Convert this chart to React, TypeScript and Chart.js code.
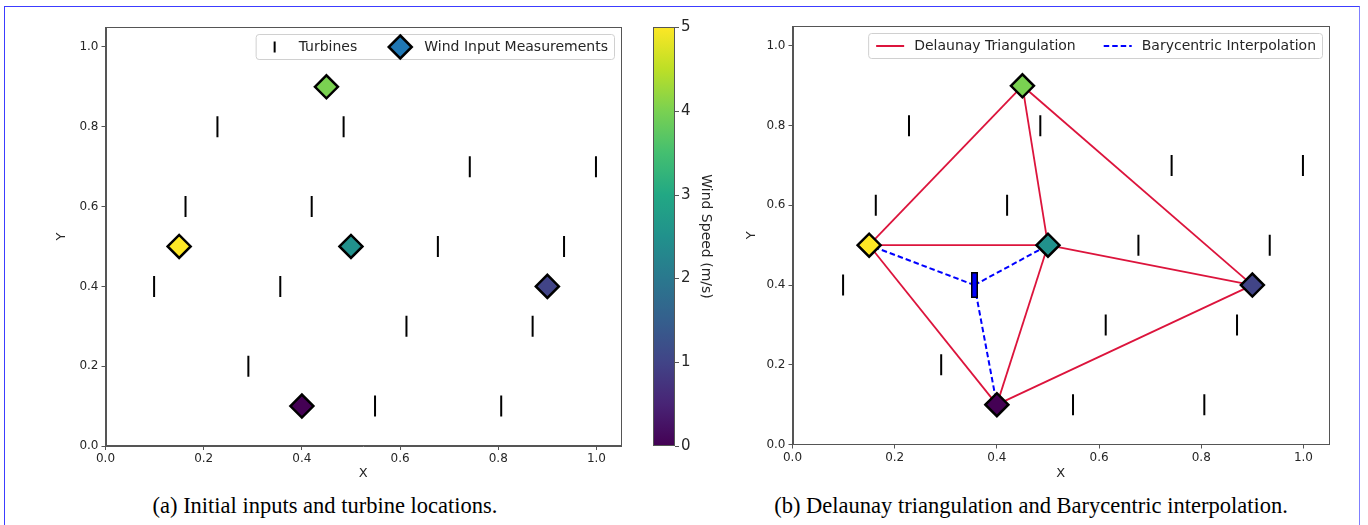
import React, { useEffect, useRef } from 'react';
import { Chart, registerables } from 'chart.js';
Chart.register(...registerables);

// ---------------- data ----------------
const turbineX = [0.228, 0.485, 0.742, 0.999, 0.163, 0.42, 0.677, 0.934, 0.099, 0.356, 0.613, 0.87, 0.291, 0.549, 0.806];
const turbineY = [0.8, 0.8, 0.7, 0.7, 0.6, 0.6, 0.5, 0.5, 0.4, 0.4, 0.3, 0.3, 0.2, 0.1, 0.1];
const inputX = [0.45, 0.15, 0.5, 0.9, 0.4];
const inputY = [0.9, 0.5, 0.5, 0.4, 0.1];
const windSpeed = [4, 5, 2.5, 1, 0];
const delaunayEdges = [[0, 1], [0, 2], [0, 3], [1, 2], [1, 4], [2, 4], [2, 3], [4, 3]];
const targetTurbine = 9;
const targetTriangle = [1, 2, 4];
const xTicks = [0, 0.2, 0.4, 0.6, 0.8, 1.0];
const yTicks = [0, 0.2, 0.4, 0.6, 0.8, 1.0];
const colorbarTicks = [0, 1, 2, 3, 4, 5];
const speedMin = 0;
const speedMax = 5;
const axisMin = 0;
const axisMax = 1.05;
const captionA = '(a) Initial inputs and turbine locations.';
const captionB = '(b) Delaunay triangulation and Barycentric interpolation.';

// ---------------- styles ----------------
const FONT = '"DejaVu Sans", sans-serif';
const TEXT = '#262626';
const SPINE = '#555555';
const CRIMSON = '#dc143c';
const BLUE = '#0000ff';
const LEGEND_BLUE = '#1f77b4';
const LEGEND_FONT = 14;

const VIRIDIS = ['#440154', '#482475', '#414487', '#355f8d', '#2a788e', '#21918c', '#22a884', '#44bf70', '#7ad151', '#bddf26', '#fde725'];
function hexToRgb(h: string) {
  return [parseInt(h.slice(1, 3), 16), parseInt(h.slice(3, 5), 16), parseInt(h.slice(5, 7), 16)];
}
function viridis(t: number) {
  const c = Math.max(0, Math.min(1, t)) * (VIRIDIS.length - 1);
  const i = Math.min(VIRIDIS.length - 2, Math.floor(c));
  const f = c - i;
  const a = hexToRgb(VIRIDIS[i]);
  const b = hexToRgb(VIRIDIS[i + 1]);
  const m = a.map((v, k) => Math.round(v + (b[k] - v) * f));
  return `rgb(${m[0]},${m[1]},${m[2]})`;
}

function drawDiamond(ctx: CanvasRenderingContext2D, cx: number, cy: number, r: number, fill: string) {
  ctx.save();
  ctx.beginPath();
  ctx.moveTo(cx, cy - r);
  ctx.lineTo(cx + r, cy);
  ctx.lineTo(cx, cy + r);
  ctx.lineTo(cx - r, cy);
  ctx.closePath();
  ctx.fillStyle = fill;
  ctx.fill();
  ctx.lineWidth = 2.5;
  ctx.lineJoin = 'miter';
  ctx.strokeStyle = '#000';
  ctx.stroke();
  ctx.restore();
}

function makeTargetMarker() {
  const c = document.createElement('canvas');
  c.width = 7;
  c.height = 26;
  const g = c.getContext('2d')!;
  g.fillStyle = '#000';
  g.fillRect(0, 0, 7, 26);
  g.fillStyle = BLUE;
  g.fillRect(1.5, 1.5, 4, 23);
  return c;
}

// ---------------- plugins ----------------
const boxPlugin = {
  id: 'mplBox',
  afterDatasetsDraw(chart: any) {
    const { ctx, chartArea: a } = chart;
    ctx.save();
    ctx.strokeStyle = SPINE;
    ctx.lineWidth = 1;
    ctx.strokeRect(Math.round(a.left) + 0.5, Math.round(a.top) + 0.5, Math.round(a.right - a.left) - 1, Math.round(a.bottom - a.top) - 1);
    ctx.restore();
  },
};

const legendPlugin = {
  id: 'mplLegend',
  afterDraw(chart: any, _args: any, opts: any) {
    const items = opts && opts.items;
    if (!items) return;
    const { ctx, chartArea: a } = chart;
    ctx.save();
    ctx.font = `${LEGEND_FONT}px ${FONT}`;
    const widths = items.map((it: any) => ctx.measureText(it.label).width);
    const padL = opts.padL, handle = 28, textPad = 10, colSpace = opts.colSpace, padR = 6;
    let w = padL + padR + colSpace * (items.length - 1);
    widths.forEach((tw: number) => (w += handle + textPad + tw));
    const h = 25;
    const right = a.right - 7;
    const top = a.top + 7;
    const left = right - w;
    ctx.beginPath();
    ctx.roundRect(left + 0.5, top + 0.5, w, h, 3);
    ctx.fillStyle = 'rgba(255,255,255,0.8)';
    ctx.fill();
    ctx.strokeStyle = '#d0d0d0';
    ctx.lineWidth = 1;
    ctx.stroke();
    let x = left + padL;
    const cy = top + h / 2 + 0.5;
    items.forEach((it: any, i: number) => {
      const hc = x + handle / 2;
      if (it.kind === 'turbine') {
        ctx.strokeStyle = '#000';
        ctx.lineWidth = 2;
        ctx.beginPath();
        ctx.moveTo(hc, cy - 5.5);
        ctx.lineTo(hc, cy + 5.5);
        ctx.stroke();
      } else if (it.kind === 'diamond') {
        drawDiamond(ctx, hc, cy, 11.5, LEGEND_BLUE);
      } else if (it.kind === 'line' || it.kind === 'dash') {
        ctx.strokeStyle = it.kind === 'line' ? CRIMSON : BLUE;
        ctx.lineWidth = 2;
        ctx.setLineDash(it.kind === 'dash' ? [5.5, 3] : []);
        ctx.beginPath();
        ctx.moveTo(x, cy);
        ctx.lineTo(x + handle, cy);
        ctx.stroke();
        ctx.setLineDash([]);
      }
      x += handle + textPad;
      ctx.fillStyle = TEXT;
      ctx.textBaseline = 'middle';
      ctx.textAlign = 'left';
      ctx.fillText(it.label, x, cy);
      x += widths[i] + colSpace;
    });
    ctx.restore();
  },
};

const colorbarPlugin = {
  id: 'colorbar',
  afterDraw(chart: any, _args: any, opts: any) {
    if (!opts || !opts.ticks) return;
    const { ctx, chartArea: a } = chart;
    const x0 = opts.x, w = opts.width;
    const top = a.top, bottom = a.bottom;
    ctx.save();
    const grad = ctx.createLinearGradient(0, bottom, 0, top);
    VIRIDIS.forEach((c, i) => grad.addColorStop(i / (VIRIDIS.length - 1), c));
    ctx.fillStyle = grad;
    ctx.fillRect(x0, top, w, bottom - top);
    ctx.strokeStyle = SPINE;
    ctx.lineWidth = 1;
    ctx.strokeRect(x0 + 0.5, top + 0.5, w - 1, bottom - top - 1);
    ctx.font = `15px ${FONT}`;
    ctx.fillStyle = TEXT;
    ctx.textAlign = 'left';
    ctx.textBaseline = 'middle';
    opts.ticks.forEach((v: number) => {
      const y = Math.round(bottom - ((v - opts.min) / (opts.max - opts.min)) * (bottom - top)) + 0.5;
      ctx.beginPath();
      ctx.moveTo(x0 + w, y);
      ctx.lineTo(x0 + w + 4, y);
      ctx.stroke();
      ctx.fillText(String(v), x0 + w + 6, y);
    });
    ctx.translate(opts.labelX, (top + bottom) / 2);
    ctx.rotate(Math.PI / 2);
    ctx.textAlign = 'center';
    ctx.font = `${LEGEND_FONT}px ${FONT}`;
    ctx.fillText(opts.label, 0, 0);
    ctx.restore();
  },
};

function axes(xHeight: number, yWidth: number) {
  const tickFont = { family: FONT, size: 12 };
  const titleFont = { family: FONT, size: 13, lineHeight: 1 };
  const common = (ticks: number[]) => ({
    type: 'linear' as const,
    min: axisMin,
    max: axisMax,
    afterBuildTicks: (sc: any) => {
      sc.ticks = ticks.map((v) => ({ value: v }));
    },
    ticks: {
      font: tickFont,
      color: TEXT,
      autoSkip: false,
      maxRotation: 0,
      callback: (v: any) => Number(v).toFixed(1),
    },
    grid: { drawOnChartArea: false, drawTicks: true, tickLength: 4, color: SPINE, lineWidth: 1 },
    border: { display: true, color: SPINE, width: 1 },
  });
  const x: any = common(xTicks);
  x.position = 'bottom';
  x.ticks.padding = 2;
  x.title = { display: true, text: 'X', font: titleFont, color: TEXT, padding: { top: 0, bottom: 0 } };
  x.afterFit = (sc: any) => { sc.height = xHeight; };
  const y: any = common(yTicks);
  y.position = 'left';
  y.ticks.padding = 3;
  y.title = { display: true, text: 'Y', font: titleFont, color: TEXT, padding: { top: 0, bottom: 0 } };
  y.afterFit = (sc: any) => { sc.width = yWidth; };
  return { x, y };
}

function inputDataset(label: string) {
  return {
    label,
    data: inputX.map((x, i) => ({ x, y: inputY[i] })),
    pointStyle: 'rectRot',
    pointRadius: 11.5,
    pointBorderWidth: 2.5,
    pointBorderColor: '#000',
    pointBackgroundColor: windSpeed.map((s) => viridis((s - speedMin) / (speedMax - speedMin))),
    showLine: false,
  };
}
function turbineDataset(label: string) {
  return {
    label,
    data: turbineX.map((x, i) => ({ x, y: turbineY[i] })),
    pointStyle: 'line',
    pointRotation: 90,
    pointRadius: 10.5,
    pointBorderWidth: 2,
    pointBorderColor: '#000',
    pointBackgroundColor: '#000',
    showLine: false,
  };
}

export default function App() {
  const leftRef = useRef<HTMLCanvasElement>(null);
  const rightRef = useRef<HTMLCanvasElement>(null);

  useEffect(() => {
    const base = {
      responsive: false,
      animation: false as const,
      events: [] as any[],
    };
    const left = new Chart(leftRef.current!, {
      type: 'scatter',
      data: {
        datasets: [inputDataset('Wind Input Measurements'), turbineDataset('Turbines')] as any,
      },
      options: {
        ...base,
        layout: { padding: { left: 55.5, right: 119, top: 27, bottom: 0 } },
        scales: axes(34, 50) as any,
        plugins: {
          legend: { display: false },
          tooltip: { enabled: false },
          mplLegend: {
            padL: 5,
            colSpace: 29,
            items: [
              { label: 'Turbines', kind: 'turbine' },
              { label: 'Wind Input Measurements', kind: 'diamond' },
            ],
          },
          colorbar: {
            x: 653,
            width: 22,
            min: speedMin,
            max: speedMax,
            ticks: colorbarTicks,
            label: 'Wind Speed (m/s)',
            labelX: 706,
          },
        } as any,
      },
      plugins: [boxPlugin, legendPlugin, colorbarPlugin],
    });

    const target = { x: turbineX[targetTurbine], y: turbineY[targetTurbine] };
    const baryLines = targetTriangle.map((k) => ({
      label: 'Barycentric Interpolation',
      data: [target, { x: inputX[k], y: inputY[k] }],
      showLine: true,
      pointRadius: 0,
      borderColor: BLUE,
      borderWidth: 2,
      borderDash: [5.5, 3],
    }));
    const edgeLines = delaunayEdges.map(([a, b]) => ({
      label: 'Delaunay Triangulation',
      data: [{ x: inputX[a], y: inputY[a] }, { x: inputX[b], y: inputY[b] }],
      showLine: true,
      pointRadius: 0,
      borderColor: CRIMSON,
      borderWidth: 1.8,
    }));
    const right = new Chart(rightRef.current!, {
      type: 'scatter',
      data: {
        datasets: [
          inputDataset('Wind Input Measurements'),
          {
            label: 'Target Turbine',
            data: [target],
            pointStyle: makeTargetMarker(),
            pointRadius: 12,
            showLine: false,
          },
          ...baryLines,
          ...edgeLines,
          turbineDataset('Turbines'),
        ] as any,
      },
      options: {
        ...base,
        layout: { padding: { left: 55.5, right: 39, top: 26, bottom: 0 } },
        scales: axes(35.5, 47) as any,
        plugins: {
          legend: { display: false },
          tooltip: { enabled: false },
          mplLegend: {
            padL: 8,
            colSpace: 28,
            items: [
              { label: 'Delaunay Triangulation', kind: 'line' },
              { label: 'Barycentric Interpolation', kind: 'dash' },
            ],
          },
        } as any,
      },
      plugins: [boxPlugin, legendPlugin],
    });
    return () => {
      left.destroy();
      right.destroy();
    };
  }, []);

  const caption: React.CSSProperties = {
    position: 'fixed',
    top: 493,
    fontFamily: '"Liberation Serif", "Times New Roman", serif',
    fontSize: 22.5,
    lineHeight: '25px',
    color: '#000',
    textAlign: 'center',
    whiteSpace: 'nowrap',
  };

  return (
    <div>
      <div
        style={{
          position: 'fixed',
          left: 4,
          top: 6,
          width: 1356,
          height: 530,
          borderLeft: '1.5px solid #3c3cff',
          borderTop: '1.5px solid #3c3cff',
          borderRight: '1.5px solid #7f7fff',
          boxSizing: 'border-box',
          background: '#fff',
        }}
      />
      <canvas ref={leftRef} width={740} height={480} style={{ position: 'fixed', left: 0, top: 0, width: 740, height: 480 }} />
      <canvas ref={rightRef} width={678} height={480} style={{ position: 'fixed', left: 690, top: 0, width: 678, height: 480 }} />
      <div style={{ ...caption, left: 75, width: 500 }}>{captionA}</div>
      <div style={{ ...caption, left: 731, width: 600 }}>{captionB}</div>
    </div>
  );
}
